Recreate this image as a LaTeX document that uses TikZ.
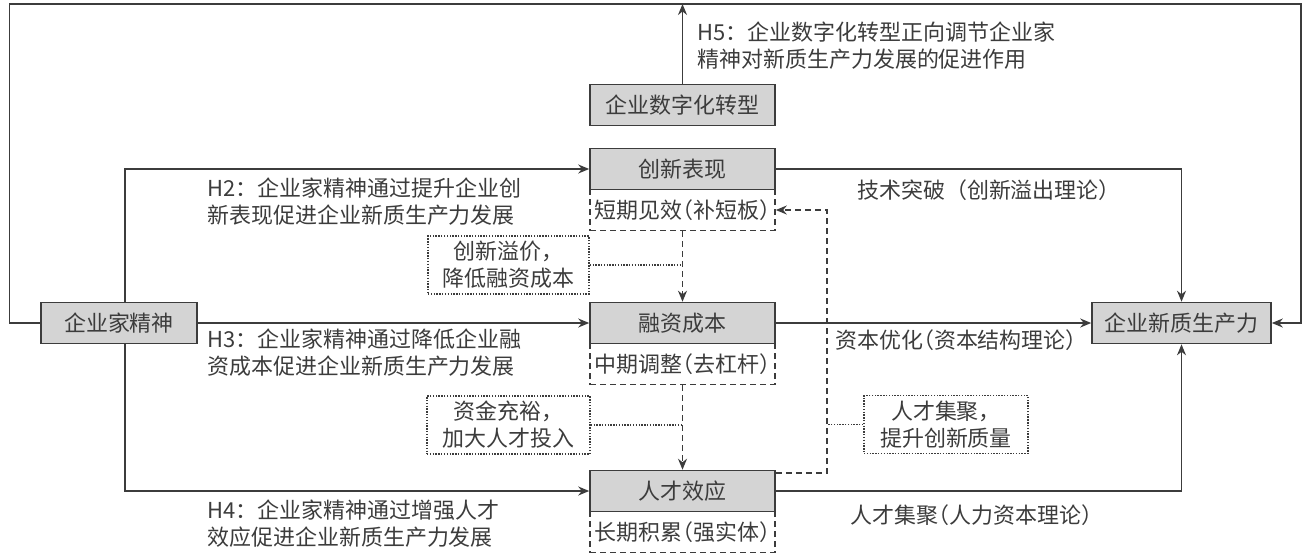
\documentclass[tikz,border=0pt]{standalone}
\usepackage{fontspec}
\setmainfont{Noto Sans CJK SC}
\newfontfamily\hwfont{Noto Sans CJK SC}[RawFeature=+halt]
\usepackage{tikz}
\usetikzlibrary{arrows.meta,positioning,calc}
\definecolor{ink}{RGB}{60,60,60}
\definecolor{boxgrey}{RGB}{212,212,212}

\begin{document}
\begin{tikzpicture}[font=\fontsize{12.5}{15.3}\selectfont,text=ink,
 k/.style={draw=ink,line width=0.9pt,fill=boxgrey,minimum width=3.7cm,minimum height=0.82cm,inner sep=1pt},
 k2/.style={draw=ink,line width=0.9pt,dash pattern=on 3.4pt off 2.3pt,minimum width=3.7cm,minimum height=0.82cm,inner sep=0pt,execute at begin node=\hwfont},
 k3/.style={draw=ink,line width=0.8pt,dash pattern=on 0.8pt off 0.8pt,align=center,inner sep=0pt,minimum height=1.16cm},
 hyp/.style={anchor=west,align=left,inner sep=0pt},
 ln/.style={draw=ink,line width=0.9pt,-{Stealth[length=2.2mm,width=1.8mm]}},
 dsh/.style={draw=ink,line width=0.9pt,dash pattern=on 3.4pt off 2.3pt,-{Stealth[length=2.2mm,width=1.8mm]}},
 dot/.style={draw=ink,line width=0.8pt,dash pattern=on 0.8pt off 0.8pt}]
 \useasboundingbox (0,0) rectangle (26.16,11.1);
 % boxes
 \node[k,minimum width=3.12cm] (ent) at (2.38,4.64){企业家精神};
 \node[k,minimum width=3.58cm] (npf) at (23.63,4.64){企业新质生产力};
 \node[k] (dig) at (13.65,9.0){企业数字化转型};
 \foreach \nm/\y/\txt/\sub in {inn/7.72/创新表现/短期见效（补短板）,fin/4.64/融资成本/中期调整（去杠杆）,tal/1.28/人才效应/长期积累（强实体）}{
   \node[k2] (\nm S) at (13.65,\y-0.82){\sub};
   \node[k] (\nm) at (13.65,\y){\txt};
 }
 \node[k3,minimum width=3.22cm] (p1) at (10.17,5.80){创新溢价，\\降低融资成本};
 \node[k3,minimum width=3.26cm] (p2) at (10.17,2.60){资金充裕，\\加大人才投入};
 \node[k3,minimum width=3.28cm] (p3) at (18.92,2.61){人才集聚，\\提升创新质量};
 % outer loop (H5)
 \coordinate (tl) at (0.19,11.02); \coordinate (tr) at (26.02,11.02);
 \draw[ln] (ent.west) -| (tl) -- (tr) |- (npf.east);
 \draw[ln] (dig.north) -- (dig.north |- tr);
 \draw[ln] ([xshift=0.12cm]ent.north) |- (inn.west);
 \draw[ln] (ent.east) -- (fin.west);
 \draw[ln] ([xshift=0.12cm]ent.south) |- (tal.west);
 \draw[ln] (inn.east) -| (npf.north);
 \draw[ln] (fin.east) -- (npf.west);
 \draw[ln] (tal.east) -| (npf.south);
 % mechanisms
 \coordinate (bk) at (16.54,1.64);
 \draw[dsh] (innS.south) -- (fin.north);
 \draw[dsh] (finS.south) -- (tal.north);
 \draw[dsh] (bk -| tal.east) -- (bk) |- (innS.east);
 \draw[dot] (p1.east) -- (p1.east -| innS.south);
 \draw[dot] (p2.east) -- (p2.east -| finS.south);
 \draw[dot] (p3.west) -- (p3.west -| bk);
 % texts
 \node[hyp] (h5) at (13.94,10.18){H5：企业数字化转型正向调节企业家\\精神对新质生产力发展的促进作用};
 \node[hyp] (h2) at (4.14,7.07){H2：企业家精神通过提升企业创\\新表现促进企业新质生产力发展};
 \node[hyp] (h3) at (4.14,4.04){H3：企业家精神通过降低企业融\\资成本促进企业新质生产力发展};
 \node[hyp] (h4) at (4.14,0.63){H4：企业家精神通过增强人才\\效应促进企业新质生产力发展};
 \node (l1) at (19.78,7.30){技术突破（创新溢出理论）};
 \node (l2) at (19.12,4.30){\hwfont 资本优化（资本结构理论）};
 \node (l3) at (19.43,0.80){\hwfont 人才集聚（人力资本理论）};
\end{tikzpicture}
\end{document}
